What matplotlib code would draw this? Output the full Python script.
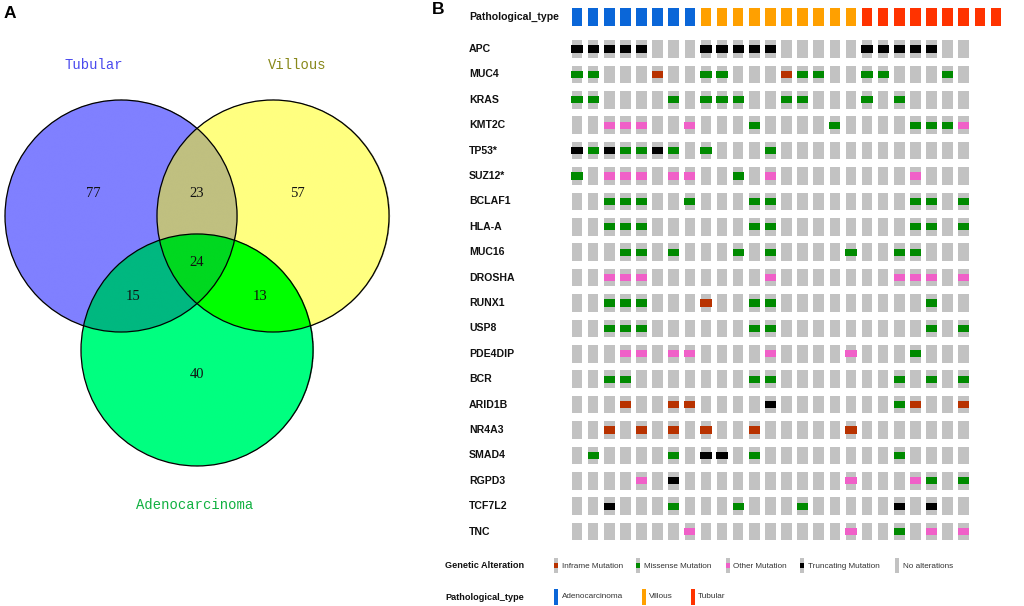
import numpy as np
import matplotlib
matplotlib.use('Agg')
import matplotlib.pyplot as plt
from matplotlib.patches import Circle, Rectangle
from matplotlib.transforms import blended_transform_factory
from matplotlib.colors import to_rgba

# ---------------- data ----------------
venn_names = ['Tubular', 'Villous', 'Adenocarcinoma']
venn_regions = ['100', '010', '001', '110', '101', '011', '111']
venn_counts = [77, 57, 40, 23, 15, 13, 24]

genes = ['APC', 'MUC4', 'KRAS', 'KMT2C', 'TP53*', 'SUZ12*', 'BCLAF1', 'HLA-A',
         'MUC16', 'DROSHA', 'RUNX1', 'USP8', 'PDE4DIP', 'BCR', 'ARID1B', 'NR4A3',
         'SMAD4', 'RGPD3', 'TCF7L2', 'TNC']
# I = inframe, M = missense, O = other, T = truncating, . = none
alterations = [
    "TTTTT...TTTTT.....TTTTT..",
    "MM...I..MM...IMM..MM...M.",
    "MM....M.MMM..MM...M.M....",
    "..OOO..O...M....M....MMMO",
    "TMTMMTM.M...M............",
    "M.OOO.OO..M.O........O...",
    "..MMM..M...MM........MM.M",
    "..MMM......MM........MM.M",
    "...MM.M...M.M....M..MM...",
    "..OOO.......O.......OOO.O",
    "..MMM...I..MM.........M..",
    "..MMM......MM.........M.M",
    "...OO.OO....O....O...M...",
    "..MM.......MM.......M.M.M",
    "...I..II....T.......MI..I",
    "..I.I.I.I..I.....I.......",
    ".M....M.TT.M........M....",
    "....O.T..........O...OM.M",
    "..T...M...M...M.....T.T..",
    ".......O.........O..M.O.O",
]
path_types = ['Adenocarcinoma'] * 8 + ['Villous'] * 10 + ['Tubular'] * 9

alt_codes = ['I', 'M', 'O', 'T']
alt_labels = ['Inframe Mutation', 'Missense Mutation', 'Other Mutation',
              'Truncating Mutation', 'No alterations']
type_labels = ['Adenocarcinoma', 'Villous', 'Tubular']

# ---------------- styles ----------------
alt_colors = {'I': '#b83200', 'M': '#008a00', 'O': '#f060c8', 'T': '#000000'}
gray = '#c2c2c2'
type_colors = {'Adenocarcinoma': '#0a66d8', 'Villous': '#ffa000', 'Tubular': '#ff3300'}
region_colors = {'100': '#8080ff', '010': '#ffff80', '001': '#00ff80',
                 '110': '#c0c080', '101': '#00b880', '011': '#00ff00',
                 '111': '#00d820'}

W, H = 1024, 606
fig = plt.figure(figsize=(W / 100, H / 100), dpi=100)

# overlay (pixel coordinates) for panel letters and legend
ov = fig.add_axes([0, 0, 1, 1])
ov.set_xlim(0, W)
ov.set_ylim(H, 0)
ov.axis('off')
ov.patch.set_alpha(0)

ov.text(10, 13, 'A', fontsize=12.5, fontweight='bold', family='Liberation Sans',
        ha='center', va='center')
ov.text(438, 10, 'B', fontsize=12.5, fontweight='bold', family='Liberation Sans',
        ha='center', va='center')

# ---------------- Venn ----------------
va = fig.add_axes([0, 0, 420 / W, 1])
va.set_xlim(-1.698, 1.922)
va.set_ylim(-3.362, 1.862)
va.axis('off')
centers = [(-0.655, 0.0), (0.655, 0.0), (0.0, -1.155)]
radius = 1.0

xs = np.linspace(-1.75, 1.75, 1400)
ys = np.linspace(-2.25, 1.05, 1320)
X, Y = np.meshgrid(xs, ys)
inside = [((X - cx) ** 2 + (Y - cy) ** 2) <= radius ** 2 for cx, cy in centers]
img = np.zeros(X.shape + (4,))
for key in venn_regions:
    mask = np.ones(X.shape, bool)
    for bit, ins in zip(key, inside):
        mask &= ins if bit == '1' else ~ins
    img[mask] = to_rgba(region_colors[key])
va.imshow(img, extent=(xs[0], xs[-1], ys[0], ys[-1]), origin='lower',
          interpolation='antialiased', zorder=1, aspect='auto')
for cx, cy in centers:
    va.add_patch(Circle((cx, cy), radius, fill=False, ec='black', lw=0.9, zorder=2))

count_pos = {'100': (-0.897, 0.198), '010': (0.862, 0.198), '001': (0.0, -1.37),
             '110': (0.0, 0.198), '101': (-0.552, -0.698), '011': (0.543, -0.698),
             '111': (0.0, -0.397)}
for key, n in zip(venn_regions, venn_counts):
    x, y = count_pos[key]
    va.text(x, y, str(n), ha='center', va='center', fontsize=10.5,
            family='Liberation Serif', color='#111111', zorder=3)

name_pos = [(-0.888, 1.302), (0.862, 1.302), (-0.017, -2.491)]
name_colors = ['#4a4aee', '#88881a', '#10b040']
for name, (x, y), c in zip(venn_names, name_pos, name_colors):
    va.text(x, y, name, ha='center', va='center', fontsize=10,
            family='Liberation Mono', color=c)

# ---------------- Oncoprint ----------------
ncol = len(alterations[0])
ax_left, ax_right = 569, 1004
y_top, y_bot = -1.93, 19.6
px_top = 49 + 25.4 * y_top
px_bot = 49 + 25.4 * y_bot
ax = fig.add_axes([ax_left / W, 1 - px_bot / H, (ax_right - ax_left) / W,
                   (px_bot - px_top) / H])
ax.set_xlim(-0.5, 26.5)
ax.set_ylim(y_bot, y_top)
ax.axis('off')
ax.patch.set_alpha(0)

type_row = -1.26
ax.bar(np.arange(len(path_types)), 0.71, bottom=type_row - 0.355, width=0.66,
       color=[type_colors[t] for t in path_types])

cols = np.arange(ncol)
for k, row in enumerate(alterations):
    ax.bar(cols, 0.70, bottom=k - 0.35, width=0.66, color=gray)
    for code in alt_codes:
        idx = [i for i, ch in enumerate(row) if ch == code]
        if idx:
            ax.bar(idx, 0.29, bottom=k - 0.145, width=0.70, color=alt_colors[code])

tr = blended_transform_factory(ov.transData, ax.transData)
lab_kw = dict(fontsize=7.6, fontweight='bold', family='Liberation Sans',
              ha='left', va='center', color='#111111', transform=tr)
ax.text(469, type_row, 'Pathological_type', **lab_kw)
for k, g in enumerate(genes):
    ax.text(469, k, g, **lab_kw)

# ---------------- legends ----------------
leg_font = dict(fontsize=5.9, family='Liberation Sans', color='#333333',
                ha='left', va='center')
ov.text(445, 566, 'Genetic Alteration', fontsize=6.6, fontweight='bold',
        family='Liberation Sans', ha='left', va='center', color='#111111')
ov.text(445, 597, 'Pathological_type', fontsize=6.6, fontweight='bold',
        family='Liberation Sans', ha='left', va='center', color='#111111')

alt_icon_x = [554, 636, 726, 800, 895]
alt_text_x = [562, 644, 733, 808, 903]
for i, lab in enumerate(alt_labels):
    ov.add_patch(Rectangle((alt_icon_x[i], 558), 4, 15, color=gray, lw=0))
    if i < 4:
        ov.add_patch(Rectangle((alt_icon_x[i], 563), 4, 5,
                               color=alt_colors[alt_codes[i]], lw=0))
    ov.text(alt_text_x[i], 566, lab, **leg_font)

type_icon_x = [554, 642, 691]
type_text_x = [562, 649, 698]
for i, lab in enumerate(type_labels):
    ov.add_patch(Rectangle((type_icon_x[i], 589), 4, 16, color=type_colors[lab], lw=0))
    ov.text(type_text_x[i], 597, lab, **leg_font)

fig.savefig('out.png', dpi=100)
